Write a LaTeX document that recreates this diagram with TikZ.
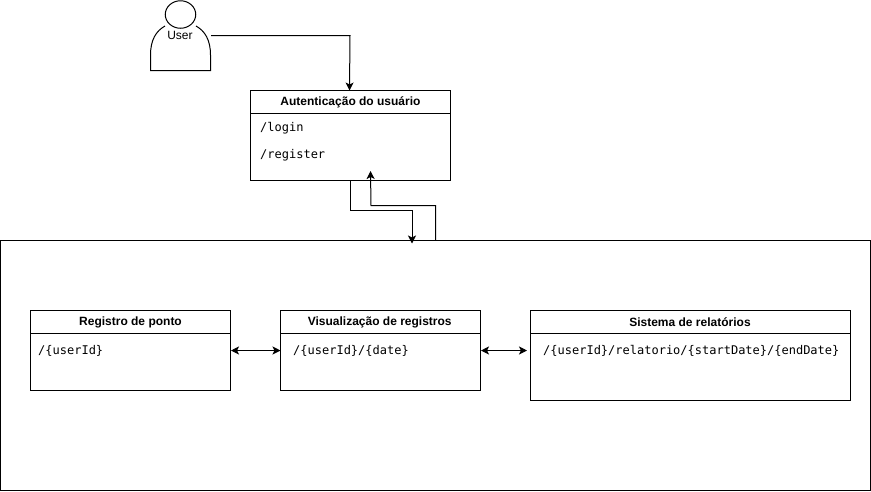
\documentclass[tikz,border=0pt]{standalone}
\usepackage{fontspec}
\setmainfont{Liberation Sans}
\newfontfamily\monofam{DejaVu Sans Mono}
\usetikzlibrary{arrows.meta,positioning,shapes.geometric}
\tikzset{
  ln/.style={draw=black,line width=1pt},
  box/.style={ln,rectangle,anchor=north west,inner sep=0pt,outer sep=0pt,minimum width=#1},
  titlebox/.style={box=#1,minimum height=23pt,font=\bfseries\fontsize{12}{14}\selectfont},
  bodybox/.style={box=#1},
  route/.style={text=black,anchor=west,inner sep=0pt,font=\monofam\fontsize{12}{14}\selectfont},
  tip/.style={},
  conn/.style={line width=1pt,-{Stealth[length=8pt,width=8pt,inset=2pt]}},
  biconn/.style={line width=1pt,{Stealth[length=8pt,width=8pt,inset=2pt]}-{Stealth[length=8pt,width=8pt,inset=2pt]}},
}
\begin{document}
\begin{tikzpicture}[x=1pt,y=-1pt]
\useasboundingbox (0,0) rectangle (871,491);
% outer frame
\node[bodybox=870pt,minimum height=250pt] (frame) at (0.5,240.5) {};
% actor
\node[ellipse,ln,minimum width=30.5pt,minimum height=27.5pt,inner sep=0pt,outer sep=0pt] (head) at (180.5,14.5) {};
\draw[ln] (165,26) .. controls (156,31) and (150.5,40) .. (150.5,55) -- (150.5,70.5) -- (210.5,70.5) -- (210.5,55)
  .. controls (210.5,40) and (205,31) .. (196,26);
\node[rectangle,minimum width=60pt,minimum height=40pt,inner sep=0pt,outer sep=0pt] (actor) at (180.5,50.5) {};
\node[inner sep=0pt,font=\fontsize{12}{14}\selectfont] (userlabel) at (180,35) {User};
\coordinate (actorout) at (211,35.5);
% authentication
\node[bodybox=200pt,minimum height=90pt] (auth) at (250.5,90.5) {};
\node[titlebox=200pt] (authT) at (250.5,90.5) {Autenticação do usuário};
\node[route] (login) at (260,128) {/login};
\node[route] (register) at (260,155) {/register};
% registro
\node[bodybox=200pt,minimum height=80pt] (reg) at (30.5,310.5) {};
\node[titlebox=200pt] (regT) at (30.5,310.5) {Registro de ponto};
\node[route] (regR) at (38,350.5) {/\{userId\}};
% visualizacao
\node[bodybox=200pt,minimum height=80pt] (vis) at (280.5,310.5) {};
\node[titlebox=200pt] (visT) at (280,310.5) {\hspace{-0.5pt}Visualização de registros};
\node[route] (visR) at (293,350.5) {/\{userId\}/\{date\}};
% relatorios
\node[bodybox=320pt,minimum height=90pt] (sis) at (530.5,310.5) {};
\node[titlebox=320pt] (sisT) at (530.5,310.5) {\hspace{-1pt}Sistema de relatórios};
\node[route] (sisR) at (543,350.5) {/\{userId\}/relatorio/\{startDate\}/\{endDate\}};
% connectors
\coordinate (authin) at (349.5,90.5);
\draw[conn] (actorout) -- (350,35.5) -- (authin);
\coordinate (authout) at (350.5,180.5);
\coordinate (framein) at (412,243.5);
\draw[conn] (authout) -- (350.5,210.5) -- (412,210.5) -- (framein);
\coordinate (frameout) at (435.5,240.5);
\coordinate (authback) at (370.5,171);
\draw[conn] (frameout) -- (435.5,205.5) -- (371,205.5) -- (authback);
\coordinate (regE) at (231,350.5);
\coordinate (visW) at (280.5,350.5);
\draw[biconn] (regE) -- (visW);
\coordinate (visE) at (481,350.5);
\coordinate (sisW) at (527,350.5);
\draw[biconn] (visE) -- (sisW);
\end{tikzpicture}
\end{document}
